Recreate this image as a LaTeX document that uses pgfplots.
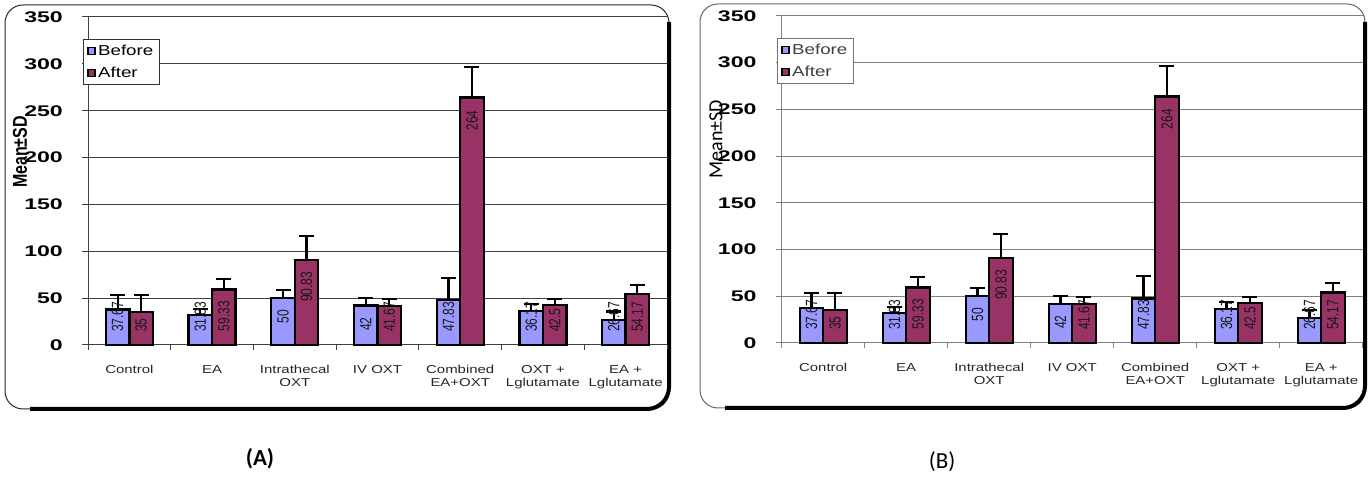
\documentclass[border=0pt]{standalone}
\usepackage{pgfplots}
\pgfplotsset{compat=1.18}
\usepackage{pgfplotstable}
\usepackage{graphicx}
\usepackage{fontspec}
\setmainfont{Liberation Sans}
\newfontfamily\stretchA[FakeStretch=1.5]{Liberation Sans}
\newfontfamily\stretchB[FakeStretch=1.3]{Liberation Sans}
\newfontfamily\cali{Carlito}
\definecolor{before}{HTML}{9999FF}
\definecolor{after}{HTML}{993366}

\pgfplotstableread{
x b     bsd  bl    blab  a      asd  al    alab
0 37.67 16   13.9  37.67 35     18.5 13.9  35
1 31.83 6.5  13.9  31.83 59.33  11   14.5  59.33
2 50    8.7  23    50    90.83  25.5 46    90.83
3 42    8.5  15    42    41.67  7.4  13.9  41.67
4 47.83 23.7 13.9  47.83 264    32.6 228.6 264
5 36.17 7.5  13.9  36.17 42.5   6.5  13.9  42.5
6 26.67 9    13.9  26.67 54.17  10   13.9  54.17
}\datatable

\pgfplotsset{
  panel/.style={
    scale only axis, anchor=south west,
    xmin=-0.5, xmax=6.5, ymin=0, ymax=350,
    axis lines=left, axis line style={-, draw=#1, line width=1pt},
    ytick={0,50,...,350}, ymajorgrids,
    grid style={draw=#1, line width=1pt},
    xtick={0,...,6},
    xticklabels={Control, EA, {Intrathecal\\OXT}, IV OXT, {Combined\\EA+OXT}, {OXT +\\Lglutamate}, {EA +\\Lglutamate}},
    minor xtick={-0.5,0.5,...,6.5},
    tick align=outside, major tick length=6pt, minor tick length=5pt,
    every major x tick/.style={draw=none},
    every minor x tick/.style={draw=#1, line width=1pt},
    every major y tick/.style={draw=#1, line width=1pt},
    yticklabel style={font=\stretchA\bfseries\fontsize{15.4}{16}\selectfont, /pgf/number format/assume math mode=true, anchor=east, inner sep=0pt, xshift=-19pt},
    xticklabel style={font=\stretchB\fontsize{11.5}{13}\selectfont, align=center, anchor=north, inner sep=0pt, yshift=-14pt, text=black!85},
    clip=false,
    legend cell align=left,
  },
  befbar/.style={ybar, bar width=23.5pt, bar shift=-11.75pt, fill=before, draw=black, line width=2.4pt,
    legend image code/.code={\draw[fill=before, draw=black, line width=1.2pt] (0pt,-3.5pt) rectangle (7pt,3.5pt);}},
  aftbar/.style={ybar, bar width=23.5pt, bar shift=11.75pt, fill=after, draw=black, line width=2.4pt,
    legend image code/.code={\draw[fill=after, draw=black, line width=1.2pt] (0pt,-3.5pt) rectangle (7pt,3.5pt);}},
  errp/.style={draw=none, mark=none, forget plot,
    error bars/.cd, y dir=plus, y explicit,
    error bar style={draw=black, line width=2.2pt},
    error mark options={rotate=90, mark size=7.5pt, line width=2.2pt, draw=black}},
  vlab/.style={draw=none, mark=none, forget plot,
    nodes near coords={\scalebox{1}[1.35]{\pgfplotspointmeta}},
    point meta=explicit symbolic,
    every node near coord/.append style={rotate=90, anchor=west, inner sep=0pt, font=\fontsize{12}{12}\selectfont, text=black!90}},
}

\begin{document}
\begin{tikzpicture}
\useasboundingbox (0,0) rectangle (1372pt,478pt);
% frames
\begin{scope}[x=1pt,y=-1pt,shift={(0pt,478pt)}]
\draw[black!85, line width=1pt, rounded corners=18pt] (5,5) rectangle (669,409);
\draw[black, line width=4pt, rounded corners=22pt] (30,409) -- (669,409) -- (669,22);
\draw[black!60, line width=1pt, rounded corners=18pt] (700,4) rectangle (1365,408);
\draw[black, line width=4pt, rounded corners=22pt] (725,408) -- (1365,408) -- (1365,22);
\node[rotate=90, font=\bfseries\fontsize{16}{16}\selectfont] at (20,152) {\scalebox{1}[1.25]{Mean±SD}};
\node[rotate=90, font=\cali\fontsize{20}{20}\selectfont] at (716,139) {Mean±SD};
\node[font=\cali\bfseries\fontsize{23}{23}\selectfont] at (260,459) {(A)};
\node[font=\cali\fontsize{23}{23}\selectfont] at (942,462) {(B)};
\end{scope}

% Panel A
\begin{axis}[panel=black!75, at={(88pt,133pt)}, width=579pt, height=328pt,
  legend style={at={(rel axis cs:-0.0086,0.933)}, anchor=north west, draw=black!80, line width=0.8pt, fill=white,
    font=\stretchB\fontsize{14.4}{15}\selectfont, inner xsep=4pt, inner ysep=3.5pt, row sep=6.5pt,
    nodes={inner xsep=2.5pt}}]
\addplot[befbar] table[x=x, y=b] {\datatable};
\addlegendentry{Before}
\addplot[aftbar] table[x=x, y=a] {\datatable};
\addlegendentry{After}
\addplot[vlab] table[x expr=\thisrow{x}-0.142, y=bl, meta=blab] {\datatable};
\addplot[vlab] table[x expr=\thisrow{x}+0.142, y=al, meta=alab] {\datatable};
\addplot[errp] table[x expr=\thisrow{x}-0.142, y=b, y error=bsd] {\datatable};
\addplot[errp] table[x expr=\thisrow{x}+0.142, y=a, y error=asd] {\datatable};
\end{axis}

% Panel B
\begin{axis}[panel=black!50, at={(781.7pt,135pt)}, width=581pt, height=327pt,
  legend style={at={(rel axis cs:-0.008,0.933)}, anchor=north west, draw=black!55, line width=0.8pt, fill=white,
    font=\stretchB\fontsize{14.4}{15}\selectfont, text=black!75, inner xsep=4pt, inner ysep=3.5pt, row sep=6.5pt,
    nodes={inner xsep=2.5pt}}]
\addplot[befbar] table[x=x, y=b] {\datatable};
\addlegendentry{Before}
\addplot[aftbar] table[x=x, y=a] {\datatable};
\addlegendentry{After}
\addplot[vlab] table[x expr=\thisrow{x}-0.142, y=bl, meta=blab] {\datatable};
\addplot[vlab] table[x expr=\thisrow{x}+0.142, y=al, meta=alab] {\datatable};
\addplot[errp] table[x expr=\thisrow{x}-0.142, y=b, y error=bsd] {\datatable};
\addplot[errp] table[x expr=\thisrow{x}+0.142, y=a, y error=asd] {\datatable};
\end{axis}
\end{tikzpicture}
\end{document}
